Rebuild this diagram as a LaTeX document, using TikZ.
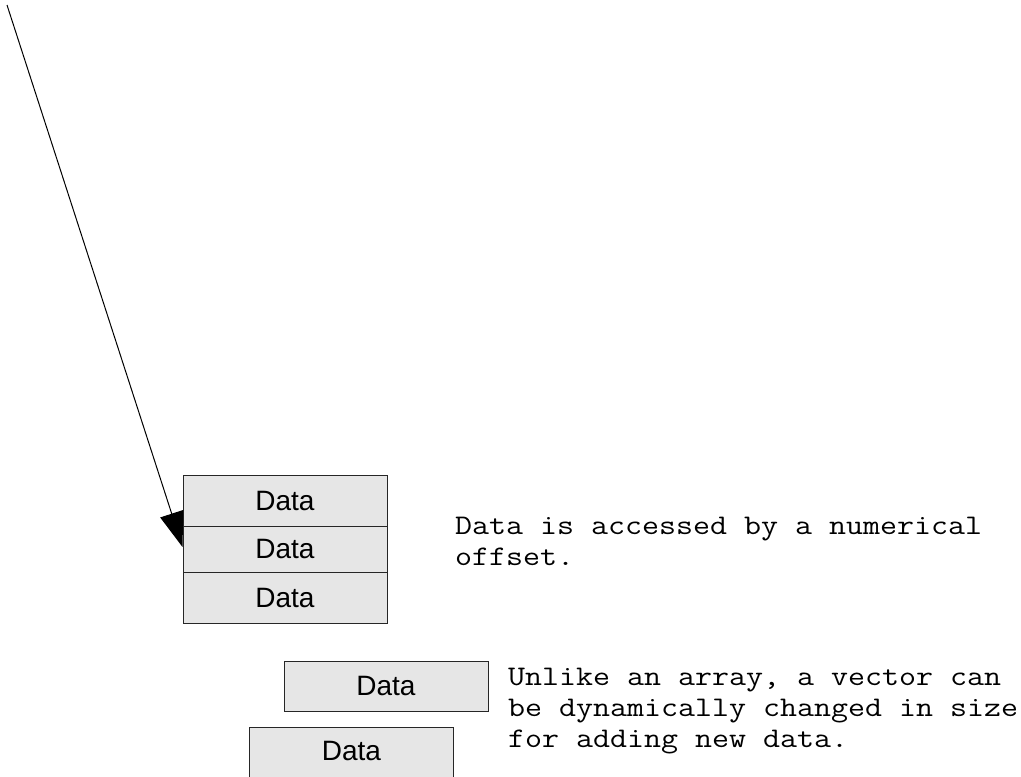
\documentclass[tikz,border=0pt]{standalone}
\usepackage{fontspec}
\setmainfont{Liberation Sans}
\newfontfamily\codefont[FakeStretch=1.162]{Latin Modern Mono}
\usetikzlibrary{arrows.meta}
\definecolor{cellfill}{RGB}{230,230,230}
\tikzset{
  cell/.style={draw=black!85, line width=1pt, fill=cellfill, minimum width=204pt,
    inner sep=0pt, font=\fontsize{28}{32}\selectfont},
  note/.style={anchor=base west, inner sep=0pt, align=left,
    font=\codefont\fontsize{28.4}{31}\selectfont},
  pointer/.style={line width=1pt, -{Triangle[length=35pt,width=24pt]}}
}
\begin{document}
\begin{tikzpicture}[x=1pt,y=-1pt]
\useasboundingbox (0,0) rectangle (1021,777);

% array: three stacked cells
\node[cell, minimum height=51pt] (r1) at (285,500.5) {Data};
\node[cell, minimum height=46pt] (r2) at (285,549) {Data};
\node[cell, minimum height=51pt] (r3) at (285,597.5) {Data};

% pointer into the array
\coordinate (src) at (7,5);
\draw[pointer] (src) -- ([yshift=2pt]r2.west);

% multi-line notes are placed by the baseline of their last line
\node[note] (arraynote) at (455,565) {Data is accessed by a numerical\\offset.};

% vector: loose cells
\node[cell, minimum height=50pt] (v1) at (386,686) {Data};
\node[cell, minimum height=54pt, text depth=6pt] (v2) at (351.5,754) {Data};

\node[note] (vectornote) at (508,747) {Unlike an array, a vector can\\be dynamically changed in size\\for adding new data.};
\end{tikzpicture}
\end{document}
